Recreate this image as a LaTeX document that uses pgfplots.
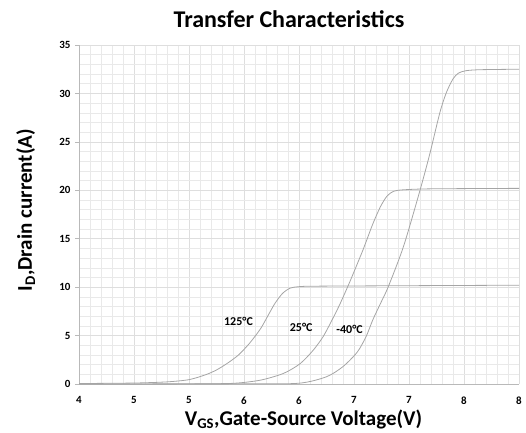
\documentclass[border=0pt]{standalone}
\usepackage{pgfplots}
\pgfplotsset{compat=1.18}
\usepackage{fontspec}
\setmainfont{Carlito}

\definecolor{gridminor}{RGB}{233,233,233}
\definecolor{gridmajor}{RGB}{222,222,222}
\definecolor{spine}{RGB}{185,185,185}
\definecolor{curve}{RGB}{165,165,165}

\begin{document}
\begin{tikzpicture}
\begin{axis}[
  at={(0pt,0pt)}, anchor=south west,
  scale only axis, width=440pt, height=339pt,
  xmin=4, xmax=8, ymin=0, ymax=35,
  xtick={4,4.5,...,8}, xticklabels={4,5,5,6,6,7,7,8,8},
  ytick={0,5,...,35},
  minor x tick num=4, minor y tick num=4,
  grid=both,
  major grid style={gridmajor, line width=0.6pt},
  minor grid style={gridminor, line width=0.5pt},
  axis x line*=bottom, axis y line*=left,
  axis line style={spine, line width=0.8pt, -},
  tick align=outside, major tick length=4pt, minor tick length=0pt,
  xtick style={draw=none}, ytick style={spine, line width=0.6pt},
  ticklabel style={font=\fontsize{11}{13}\selectfont\bfseries},
  /pgf/number format/assume math mode=true,
  xticklabel style={yshift=-5pt},
  yticklabel style={xshift=-1pt},
]
% 125 °C
\addplot[curve, line width=0.8pt, smooth, tension=0.45] coordinates {
  (4.0,0.05) (4.5,0.1) (4.8,0.22) (5.0,0.45) (5.15,0.95) (5.25,1.45)
  (5.35,2.15) (5.45,3.0) (5.55,4.2) (5.65,5.7) (5.72,7.1) (5.78,8.3)
  (5.85,9.35) (5.92,9.9) (6.0,10.05) (6.15,10.1) (7.0,10.15) (8.0,10.2)
};
% 25 °C
\addplot[curve, line width=0.8pt, smooth, tension=0.45] coordinates {
  (4.0,0.0) (5.0,0.02) (5.4,0.07) (5.65,0.4) (5.86,1.1) (6.01,2.1)
  (6.13,3.5) (6.22,4.9) (6.3,6.6) (6.37,8.2) (6.46,10.5) (6.58,13.8)
  (6.67,16.5) (6.74,18.3) (6.8,19.4) (6.86,19.9) (6.95,20.05) (7.2,20.15)
  (8.0,20.2)
};
% -40 °C
\addplot[curve, line width=0.8pt, smooth, tension=0.45] coordinates {
  (4.0,0.0) (5.5,0.02) (6.0,0.08) (6.25,0.75) (6.4,1.8) (6.53,3.3)
  (6.61,4.9) (6.67,6.6) (6.74,8.3) (6.81,10.0) (6.95,14.2) (7.1,20.0)
  (7.19,23.8) (7.28,28.0) (7.34,30.1) (7.4,31.5) (7.45,32.1) (7.52,32.35)
  (7.65,32.45) (8.0,32.5)
};
\node[font=\fontsize{12}{14}\selectfont\bfseries] at (axis cs:5.45,6.45) {125°C};
\node[font=\fontsize{12}{14}\selectfont\bfseries] at (axis cs:6.02,5.8) {25°C};
\node[font=\fontsize{12}{14}\selectfont\bfseries] at (axis cs:6.46,5.6) {-40°C};
\end{axis}
% title and axis titles
\node[anchor=base, font=\fontsize{24}{28}\selectfont\bfseries] at (210pt,356pt) {Transfer Characteristics};
\node[anchor=base, font=\fontsize{21}{25}\selectfont\bfseries] at (224.5pt,-41pt) {V\textsubscript{GS},Gate-Source Voltage(V)};
\node[anchor=base, rotate=90, font=\fontsize{21}{25}\selectfont\bfseries] at (-47pt,174pt) {I\textsubscript{D},Drain current(A)};
\pgfresetboundingbox
\path (-79pt,-48pt) rectangle (447pt,384pt);
\end{tikzpicture}
\end{document}
